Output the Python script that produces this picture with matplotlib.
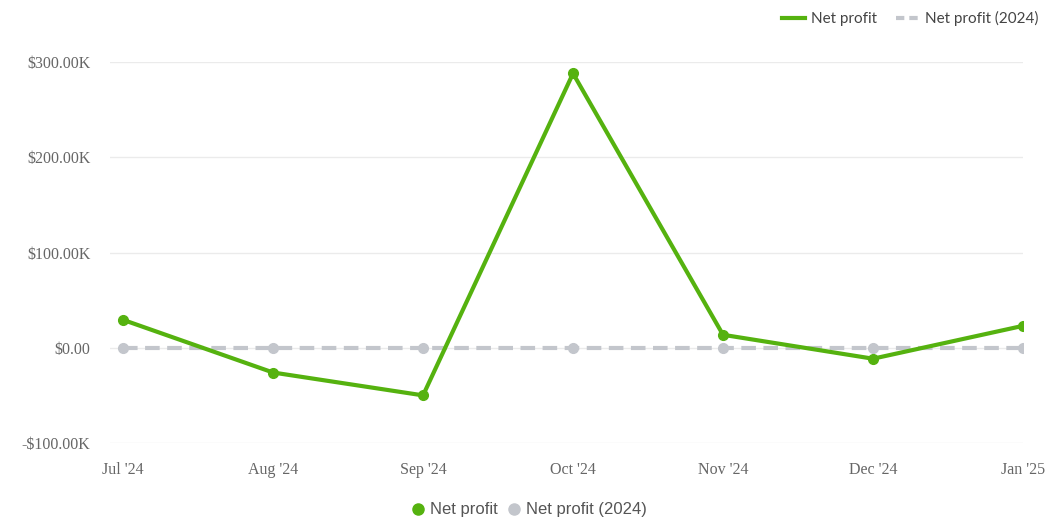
import numpy as np
import matplotlib.pyplot as plt
from matplotlib.lines import Line2D

# chart data
months = ["Jul '24", "Aug '24", "Sep '24", "Oct '24", "Nov '24", "Dec '24", "Jan '25"]
net_profit = [29.3, -26.0, -50.0, 288.0, 13.6, -11.5, 23.0]   # $K
net_profit_2024 = [0, 0, 0, 0, 0, 0, 0]
yticks = [-100, 0, 100, 200, 300]
ytick_labels = ["-$100.00K", "$0.00", "$100.00K", "$200.00K", "$300.00K"]

green = "#55b20f"
grey = "#c3c6cc"

fig = plt.figure(figsize=(10.52, 5.23), dpi=100)
ax = fig.add_axes([110 / 1052, 1 - 443 / 523, (1023 - 110) / 1052, (443 - 62) / 523])

x = np.arange(len(months))
ax.plot(x, net_profit_2024, color=grey, lw=3, ls=(0, (3.5, 1.8)), marker="o", ms=7, zorder=2)
ax.plot(x, net_profit, color=green, lw=3, marker="o", ms=7, zorder=3)

ax.set_xlim(-0.087, 6)
ax.set_ylim(-100, 300)
ax.set_yticks(yticks)
ax.set_yticklabels(ytick_labels)
ax.set_xticks(x)
ax.set_xticklabels(months)
ax.grid(axis="y", color="#ebebeb", lw=1)
ax.set_axisbelow(True)
for s in ax.spines.values():
    s.set_visible(False)
ax.tick_params(length=0, labelsize=11.5, labelcolor="#666666")
ax.tick_params(axis="y", pad=14)
ax.tick_params(axis="x", pad=14)
for lab in ax.get_xticklabels() + ax.get_yticklabels():
    lab.set_fontfamily("Liberation Serif")

# top legend (lines)
top_handles = [Line2D([], [], color=green, lw=3),
               Line2D([], [], color=grey, lw=3, ls=(0, (2, 1.2)))]
fig.legend(top_handles, ["Net profit", "Net profit (2024)"], loc="upper right",
           bbox_to_anchor=(1.0, 1.005), ncol=2, frameon=False, handlelength=1.5,
           columnspacing=1.2, handletextpad=0.4,
           prop={"family": "Lato", "size": 11}, labelcolor="#444444")

# bottom legend (dots)
bot_handles = [Line2D([], [], color=green, marker="o", ls="", ms=8),
               Line2D([], [], color=grey, marker="o", ls="", ms=8)]
fig.legend(bot_handles, ["Net profit", "Net profit (2024)"], loc="lower center",
           bbox_to_anchor=(0.503, -0.018), ncol=2, frameon=False, handlelength=0.8,
           columnspacing=0.6, handletextpad=0.3,
           prop={"family": "Liberation Sans", "size": 12}, labelcolor="#555555")

fig.savefig("out.png", dpi=100)
